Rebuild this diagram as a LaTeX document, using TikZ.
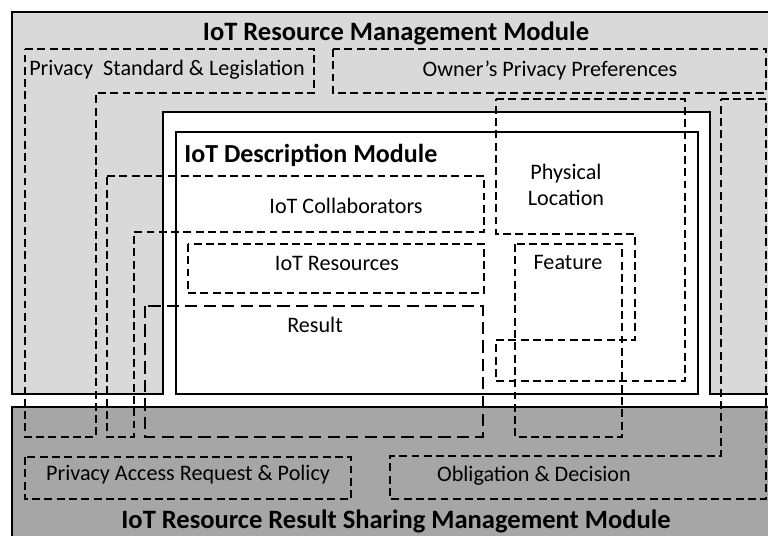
\documentclass[tikz,border=0pt]{standalone}
\usepackage{fontspec}
\setmainfont{Carlito}
\usepackage{tikz}
\usetikzlibrary{positioning}
\definecolor{lightgrey}{HTML}{D9D9D9}
\definecolor{darkgrey}{HTML}{A6A6A6}
\tikzset{
  module/.style={draw=black, line width=1.1pt},
  zone/.style={draw=black, dash pattern=on 4.5pt off 2.5pt, line width=0.85pt},
  resultzone/.style={draw=black, dash pattern=on 7pt off 3.5pt, line width=1.7pt},
  title/.style={font=\bfseries\fontsize{15.1}{17}\selectfont, inner sep=0pt},
  desctitle/.style={font=\bfseries\fontsize{14.8}{17}\selectfont, inner sep=0pt, anchor=west},
  label/.style={font=\fontsize{12.6}{15}\selectfont, inner sep=0pt, align=center}
}

\begin{document}
\begin{tikzpicture}[x=0.02cm, y=-0.02cm]
\clip (0,0) rectangle (768,536);

% grey modules
\fill[lightgrey] (12,12) rectangle (775,394);
\fill[white] (163,112) rectangle (710,394);
\draw[module] (775,12) -- (12,12) -- (12,394) -- (163,394) -- (163,112) -- (710,112) -- (710,394) -- (775,394);
\draw[module, fill=darkgrey] (12,407) rectangle (775,545);
\draw[module, fill=white] (176,132) rectangle (698,394);

% dashed zones
\draw[zone] (25,49) -- (314,49) -- (314,93) -- (96,93) -- (96,437) -- (25,437) -- cycle;
\draw[zone] (333,49) rectangle (766,93);
\draw[zone] (107,176) -- (484,176) -- (484,232) -- (134,232) -- (134,437) -- (107,437) -- cycle;
\draw[zone] (188,244) rectangle (484,293);
\draw[resultzone] (145,306) rectangle (483,437);
\draw[zone] (496,99) -- (685,99) -- (685,381) -- (496,381) -- (496,340) -- (635,340) -- (635,234) -- (496,234) -- cycle;
\draw[zone] (515,244) rectangle (622,437);
\draw[zone] (25,457) rectangle (351,499);
\draw[zone] (721,99) -- (766,99) -- (766,499) -- (390,499) -- (390,456) -- (721,456) -- cycle;

% texts
\node[title] (mgmt) at (396,33) {IoT Resource Management Module};
\node[label] (standard) at (167,70) {Privacy\ \ Standard \& Legislation};
\node[label] (owner) at (550,70) {Owner’s Privacy Preferences};
\node[desctitle] (desc) at (184,155) {IoT Description Module};
\node[label] (collab) at (346,206) {IoT Collaborators};
\node[label] (resources) at (337,263) {IoT Resources};
\node[label] (result) at (315,325) {Result};
\node[label] (location) at (566,185) {Physical\\Location};
\node[label] (feature) at (568,262) {Feature};
\node[label] (access) at (188,475) {Privacy Access Request \& Policy};
\node[label] (obligation) at (534,476) {Obligation \& Decision};
\node[title] (sharing) at (396,521) {IoT Resource Result Sharing Management Module};

\end{tikzpicture}
\end{document}
